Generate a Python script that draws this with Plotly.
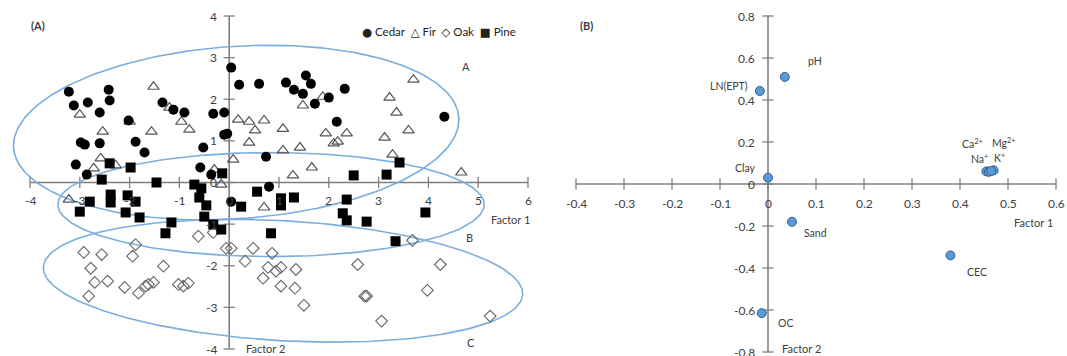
import numpy as np
import plotly.graph_objects as go

# ---------------- Panel A data (factor scores) ----------------
cedar_x = [-3.22, -3.12, -2.84, -2.42, -2.40, -2.60, -2.02, -1.34, -1.12, -0.90, -0.32, -0.10,
           -0.10, -0.04, -2.98, -2.90, -2.60, -1.88, -1.70, -0.52, -3.08, -2.86, -0.58, -0.36,
           0.04, 0.20, 0.60, 1.14, 1.30, 1.48, 1.54, 1.64, 1.72, 2.00, 2.32, 2.16, 4.32, 0.74,
           0.80, 0.04]
cedar_y = [2.18, 1.85, 1.92, 2.23, 1.97, 1.68, 1.49, 1.92, 1.75, 1.68, 1.65, 1.68,
           1.15, 1.17, 0.96, 0.91, 0.94, 0.98, 0.72, 0.84, 0.43, 0.19, 0.36, 0.19,
           2.76, 2.35, 2.37, 2.40, 2.23, 2.13, 2.57, 2.37, 1.89, 2.04, 2.25, 1.46, 1.58, 0.62,
           -0.10, -0.46]

fir_x = [-1.52, -3.00, -1.20, -2.00, -0.96, -0.80, -2.54, -1.56, -2.58, -2.28, -2.72, -0.30,
         -0.16, 0.08, -3.22, 3.70, 3.22, 1.88, 1.48, 3.36, 0.18, 0.40, 0.70, 0.52, 1.08, 1.94,
         2.36, 2.18, 2.10, 3.12, 3.60, 0.40, 1.08, 1.42, 3.28, 1.66, 1.28, 4.66, 0.70]
fir_y = [2.30, 1.63, 1.80, 1.46, 1.46, 1.27, 1.22, 1.22, 0.58, 0.41, 0.34, 0.31,
         -0.05, 0.55, -0.41, 2.47, 2.04, 2.06, 1.85, 1.68, 1.51, 1.46, 1.49, 1.25, 1.29, 1.18,
         1.18, 0.98, 0.94, 1.08, 1.25, 0.96, 0.77, 0.84, 0.67, 0.36, 0.17, 0.24, -0.60]

oak_x = [-1.88, -2.92, -2.56, -1.94, -2.78, -1.32, -2.70, -2.44, -2.10, -1.82, -1.68, -1.62,
         -1.52, -1.02, -0.92, -0.82, -2.82, -0.62, -0.32, -0.06, 0.04, 0.32, 0.48, 0.78, 0.68,
         0.86, 0.94, 1.04, 1.34, 1.04, 1.32, 1.50, 2.58, 2.72, 2.76, 3.06, 3.68, 4.24, 3.98, 5.24]
oak_y = [-1.49, -1.68, -1.73, -1.77, -2.06, -2.01, -2.40, -2.37, -2.52, -2.66, -2.49, -2.45,
         -2.40, -2.45, -2.49, -2.42, -2.73, -1.29, -1.20, -1.58, -1.58, -1.89, -1.58, -2.04, -2.30,
         -1.70, -2.13, -2.04, -2.09, -2.49, -2.54, -2.95, -1.97, -2.73, -2.73, -3.33, -1.39, -1.97, -2.59, -3.21]

pine_x = [-2.56, -2.80, -3.00, -2.38, -2.38, -2.04, -1.88, -2.08, -1.80, -1.46, -1.16, -1.28,
          -0.70, -0.56, -0.60, -0.46, -0.50, -0.32, -0.16, -0.14, -2.40, -1.98, 0.56, 0.24,
          1.04, 1.04, 1.30, 2.36, 2.28, 2.36, 2.76, 3.94, 3.34, 0.84, 2.50, 3.16, 3.42]
pine_y = [0.07, -0.46, -0.70, -0.29, -0.48, -0.31, -0.46, -0.72, -0.84, 0.00, -0.96, -1.22,
          -0.05, -0.14, -0.36, -0.55, -0.82, -1.01, -1.13, 0.22, 0.46, 0.36, -0.22, -0.58,
          -0.38, -0.55, -0.36, -0.41, -0.74, -0.91, -0.94, -0.72, -1.41, -1.22, 0.17, 0.19, 0.48]

a_xticks = [-4, -3, -2, -1, 0, 1, 2, 3, 4, 5, 6]
a_yticks = [-4, -3, -2, -1, 0, 1, 2, 3, 4]

# Group ellipses: name, centre x, centre y, semi-axis x (units), semi-axis y (units), tilt (deg)
ell_names = ["A", "B", "C"]
ell_cx = [0.14, 0.84, 1.08]
ell_cy = [1.20, -0.53, -2.36]
ell_rx = [4.48, 4.28, 4.82]
ell_ry = [2.07, 1.25, 1.44]
ell_ang = [3.9, 0.0, -3.3]

# ---------------- Panel B data (loadings) ----------------
var_names = ["pH", "LN(EPT)", "Clay", "Sand", "CEC", "OC",
             "Ca<sup>2+</sup>", "Mg<sup>2+</sup>", "Na<sup>+</sup>", "K<sup>+</sup>"]
load_f1 = [0.035, -0.017, 0.0, 0.05, 0.38, -0.013, 0.455, 0.47, 0.46, 0.465]
load_f2 = [0.51, 0.443, 0.03, -0.18, -0.34, -0.615, 0.06, 0.065, 0.058, 0.062]

b_xticks = [-0.4, -0.3, -0.2, -0.1, 0, 0.1, 0.2, 0.3, 0.4, 0.5, 0.6]
b_yticks = [-0.8, -0.6, -0.4, -0.2, 0, 0.2, 0.4, 0.6, 0.8]

# ---------------- Layout geometry ----------------
W, H = 1067, 356
FONT = "Lato, 'Open Sans', sans-serif"
AXC = "#7f7f7f"
TXT = "#404040"

# pixel mapping for panel A: -4 -> 30px, 6 -> 528px ; 4 -> 16px, -4 -> 349px
ax_px = (528 - 30) / 10.0
ay_px = (349 - 16) / 8.0
a_pdom = (0, 545)
a_xr = [-4 - (30 - a_pdom[0]) / ax_px, 6 + (a_pdom[1] - 528) / ax_px]
a_yr = [-4 - (H - 349) / ay_px, 4 + 16 / ay_px]
# panel B: -0.4 -> 576px, 0.6 -> 1056 ; 0.8 -> 16, -0.8 -> 352
bx_px = (1056 - 576) / 1.0
by_px = (352 - 16) / 1.6
b_pdom = (560, W)
b_xr = [-0.4 - (576 - b_pdom[0]) / bx_px, 0.6 + (b_pdom[1] - 1056) / bx_px]
b_yr = [-0.8 - (H - 352) / by_px, 0.8 + 16 / by_px]

fig = go.Figure()


def axes_traces(xt, yt, xa, ya):
    fig.add_trace(go.Scatter(x=[min(xt), max(xt)], y=[0, 0], mode="lines",
                             line=dict(color=AXC, width=1.6), hoverinfo="skip",
                             showlegend=False, xaxis=xa, yaxis=ya))
    fig.add_trace(go.Scatter(x=[0, 0], y=[min(yt), max(yt)], mode="lines",
                             line=dict(color=AXC, width=1.6), hoverinfo="skip",
                             showlegend=False, xaxis=xa, yaxis=ya))
    fig.add_trace(go.Scatter(x=xt, y=[0] * len(xt), mode="markers",
                             marker=dict(symbol="line-ns", size=8, line=dict(color=AXC, width=1.3)),
                             hoverinfo="skip", showlegend=False, xaxis=xa, yaxis=ya))
    fig.add_trace(go.Scatter(x=[0] * len(yt), y=yt, mode="markers",
                             marker=dict(symbol="line-ew", size=8, line=dict(color=AXC, width=1.3)),
                             hoverinfo="skip", showlegend=False, xaxis=xa, yaxis=ya))


axes_traces(a_xticks, a_yticks, "x", "y")
axes_traces(b_xticks, b_yticks, "x2", "y2")

# ellipses (rotation done in screen space)
t = np.linspace(0, 2 * np.pi, 241)
for cx, cy, rx, ry, ang in zip(ell_cx, ell_cy, ell_rx, ell_ry, ell_ang):
    th = np.deg2rad(ang)
    u = rx * ax_px * np.cos(t)
    v = ry * ay_px * np.sin(t)
    ur = u * np.cos(th) - v * np.sin(th)
    vr = u * np.sin(th) + v * np.cos(th)
    fig.add_trace(go.Scatter(x=cx + ur / ax_px, y=cy + vr / ay_px, mode="lines",
                             line=dict(color="#7aaede", width=1.6), hoverinfo="skip",
                             showlegend=False, xaxis="x", yaxis="y"))

# group scatters
fig.add_trace(go.Scatter(x=oak_x, y=oak_y, mode="markers", name="Oak",
                         marker=dict(symbol="diamond-open", size=9, color="#666666",
                                     line=dict(width=1.1)), showlegend=False))
fig.add_trace(go.Scatter(x=fir_x, y=fir_y, mode="markers", name="Fir",
                         marker=dict(symbol="triangle-up-open", size=10, color="#555555",
                                     line=dict(width=1.2)), showlegend=False))
fig.add_trace(go.Scatter(x=pine_x, y=pine_y, mode="markers", name="Pine",
                         marker=dict(symbol="square", size=10, color="#000000"), showlegend=False))
fig.add_trace(go.Scatter(x=cedar_x, y=cedar_y, mode="markers", name="Cedar",
                         marker=dict(symbol="circle", size=10, color="#000000"), showlegend=False))

# loadings
fig.add_trace(go.Scatter(x=load_f1, y=load_f2, mode="markers", name="Loadings",
                         marker=dict(symbol="circle", size=9, color="#5b9bd5",
                                     line=dict(color="#2e5f8f", width=1)),
                         showlegend=False, xaxis="x2", yaxis="y2"))

ann = []


def A(**kw):
    base = dict(showarrow=False, font=dict(family=FONT, size=12, color=TXT))
    base.update(kw)
    ann.append(base)


def fmt(v):
    return "%g" % v


# tick labels panel A
for v in a_xticks:
    A(x=v, y=0, xref="x", yref="y", text=fmt(v), yshift=-18, xanchor="center", yanchor="middle")
for v in a_yticks:
    A(x=0, y=v, xref="x", yref="y", text=fmt(v), xshift=-10, xanchor="right", yanchor="middle")
# tick labels panel B
for v in b_xticks:
    A(x=v, y=0, xref="x2", yref="y2", text=fmt(v), yshift=-19, xanchor="center", yanchor="middle")
for v in b_yticks:
    A(x=0, y=v, xref="x2", yref="y2", text=fmt(v), xshift=-11, xanchor="right", yanchor="middle")

# point labels panel B (pixel offsets)
lab_off = {"pH": (30, 16, "center"), "LN(EPT)": (-10, 5, "right"), "Clay": (-23, 10, "center"),
           "Sand": (23, -11, "center"), "CEC": (27, -17, "center"), "OC": (24, -10, "center"),
           "Ca<sup>2+</sup>": (-14, 28, "center"), "Mg<sup>2+</sup>": (10, 28, "center"),
           "Na<sup>+</sup>": (-9, 13, "center"), "K<sup>+</sup>": (8, 13, "center")}
for nm, fx, fy in zip(var_names, load_f1, load_f2):
    dx, dy, anc = lab_off[nm]
    A(x=fx, y=fy, xref="x2", yref="y2", text=nm, xshift=dx, yshift=dy, xanchor=anc,
      yanchor="middle", font=dict(family=FONT, size=10.5, color=TXT))


def P(px, py):
    return px / W, 1 - py / H


for txt, (px, py) in [
    ("<b>(A)</b>", (38, 26)),
    ("<b>(B)</b>", (586, 26)),
    ("Factor 1", (510, 219)),
    ("Factor 2", (265, 348)),
    ("Factor 1", (1033, 222)),
    ("Factor 2", (801, 348)),
    ("A", (466, 66)),
    ("B", (469, 237)),
    ("C", (471, 342)),
]:
    x, y = P(px, py)
    A(x=x, y=y, xref="paper", yref="paper", text=txt, xanchor="center", yanchor="middle",
      font=dict(family=FONT, size=11, color=TXT))

# legend (panel A)
x, y = P(439, 32)
A(x=x, y=y, xref="paper", yref="paper",
  text="<span style='font-family:DejaVu Sans'>●</span> Cedar  "
       "<span style='font-family:DejaVu Sans'>△</span> Fir  "
       "<span style='font-family:DejaVu Sans'>◇</span> Oak  "
       "<span style='font-family:DejaVu Sans'>■</span> Pine",
  xanchor="center", yanchor="middle", font=dict(family=FONT, size=11.5, color="#222222"))

fig.update_layout(
    width=W, height=H, margin=dict(l=0, r=0, t=0, b=0),
    paper_bgcolor="white", plot_bgcolor="white",
    xaxis=dict(domain=[a_pdom[0] / W, a_pdom[1] / W], range=a_xr, visible=False),
    yaxis=dict(domain=[0, 1], range=a_yr, visible=False),
    xaxis2=dict(domain=[b_pdom[0] / W, b_pdom[1] / W], range=b_xr, visible=False, anchor="y2"),
    yaxis2=dict(domain=[0, 1], range=b_yr, visible=False, anchor="x2"),
    annotations=ann,
    font=dict(family=FONT),
)

fig.write_html("out.html", config={"displayModeBar": False},
               post_script="document.body.style.margin='0';document.body.style.overflow='hidden';")
